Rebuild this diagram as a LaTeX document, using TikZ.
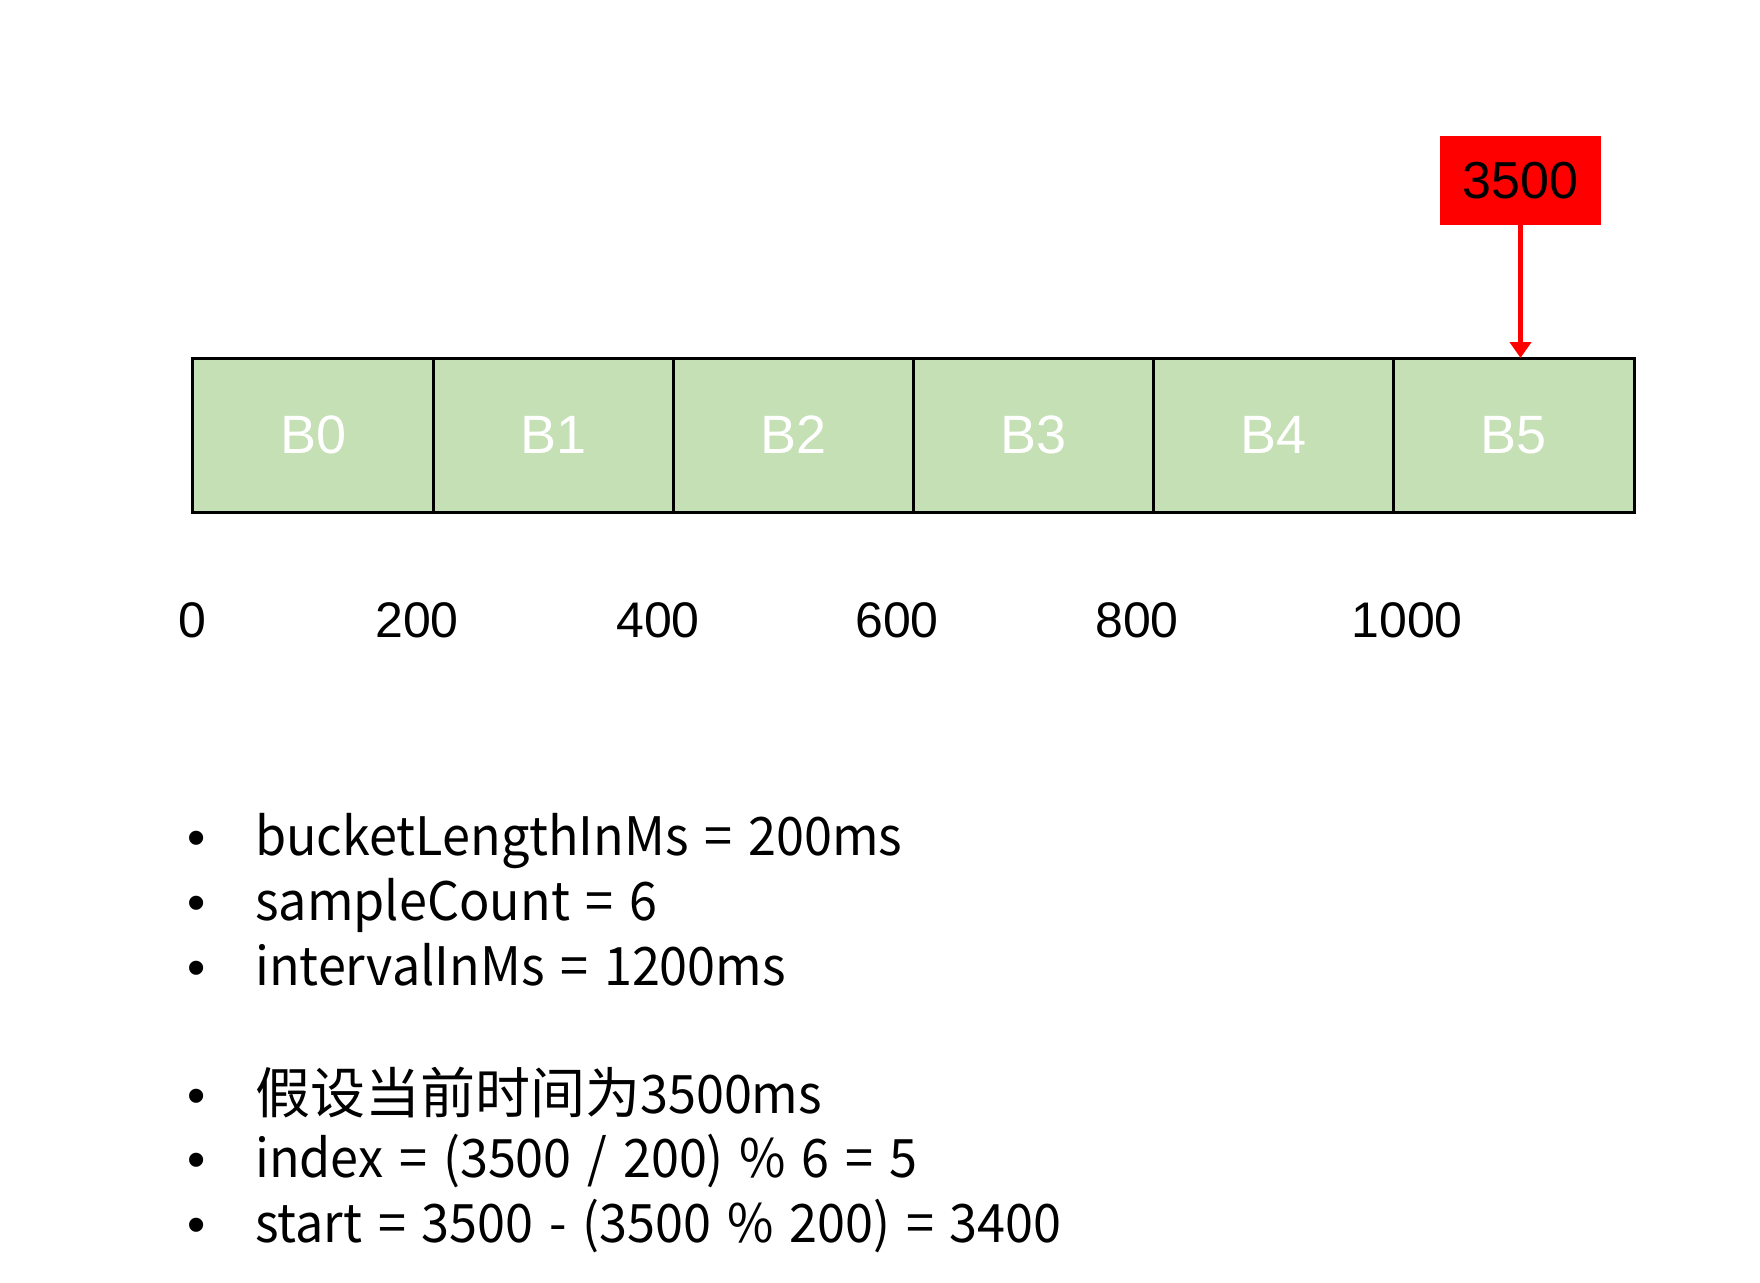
\documentclass[tikz,border=0pt]{standalone}
\usepackage{fontspec}
\setmainfont{Liberation Sans}
\newfontfamily\cjk[FakeStretch=0.95,WordSpace=1.4]{Noto Sans CJK SC}
\newfontfamily\cjkwide{Noto Sans CJK SC}
\usetikzlibrary{arrows.meta}
\definecolor{cellgreen}{HTML}{C5E0B4}
\tikzset{
  cell/.style={draw=black, line width=3pt, fill=cellgreen, minimum width=240.2pt, minimum height=154pt,
    inner sep=0pt, outer sep=0pt, text=white, font=\fontsize{54}{60}\selectfont},
  redbox/.style={fill=red, minimum width=161pt, minimum height=89pt, inner sep=0pt, outer sep=0pt,
    font=\fontsize{52}{60}\selectfont},
  tick/.style={anchor=base, inner sep=0pt, font=\fontsize{50}{60}\selectfont},
  item/.style={anchor=base west, inner sep=0pt, font=\cjk\fontsize{53}{60}\selectfont},
  dot/.style={anchor=base, inner sep=0pt, font=\fontsize{52}{60}\selectfont},
  pointer/.style={draw=red, line width=5pt, -{Triangle[width=21pt,length=16pt]}}
}
\begin{document}
\begin{tikzpicture}[x=1pt,y=-1pt]
\useasboundingbox (0,0) rectangle (1760,1282);
% buckets
\foreach \i in {0,...,5} {
  \node[cell] (b\i) at ({193+240.17*(\i+0.5)},435) {B\i};
}
% current time marker
\node[redbox] (t) at (1520.5,180.5) {3500};
\draw[pointer] (t.south) -- (t.south |- b5.north);
% axis labels
\node[tick] (l0) at (192,637) {0};
\node[tick] (l1) at (417,637) {200};
\node[tick] (l2) at (658,637) {400};
\node[tick] (l3) at (897,637) {600};
\node[tick] (l4) at (1137,637) {800};
\node[tick] (l5) at (1407,637) {1000};
% bullet list
\foreach \n/\y/\t in {1/855/{bucketLengthInMs = 200ms},
                      2/920/{sampleCount = 6},
                      3/985/{intervalInMs = 1200ms},
                      4/1113/{{\cjkwide\fontsize{55}{60}\selectfont 假设当前时间为}3500ms},
                      5/1177/{index = (3500 / 200) \% 6 = 5},
                      6/1242/{start = 3500 - (3500 \% 200) = 3400}} {
  \node[dot] (d\n) at (197,\y) {•};
  \node[item] (s\n) at (255,\y) {\t};
}
\end{tikzpicture}
\end{document}
